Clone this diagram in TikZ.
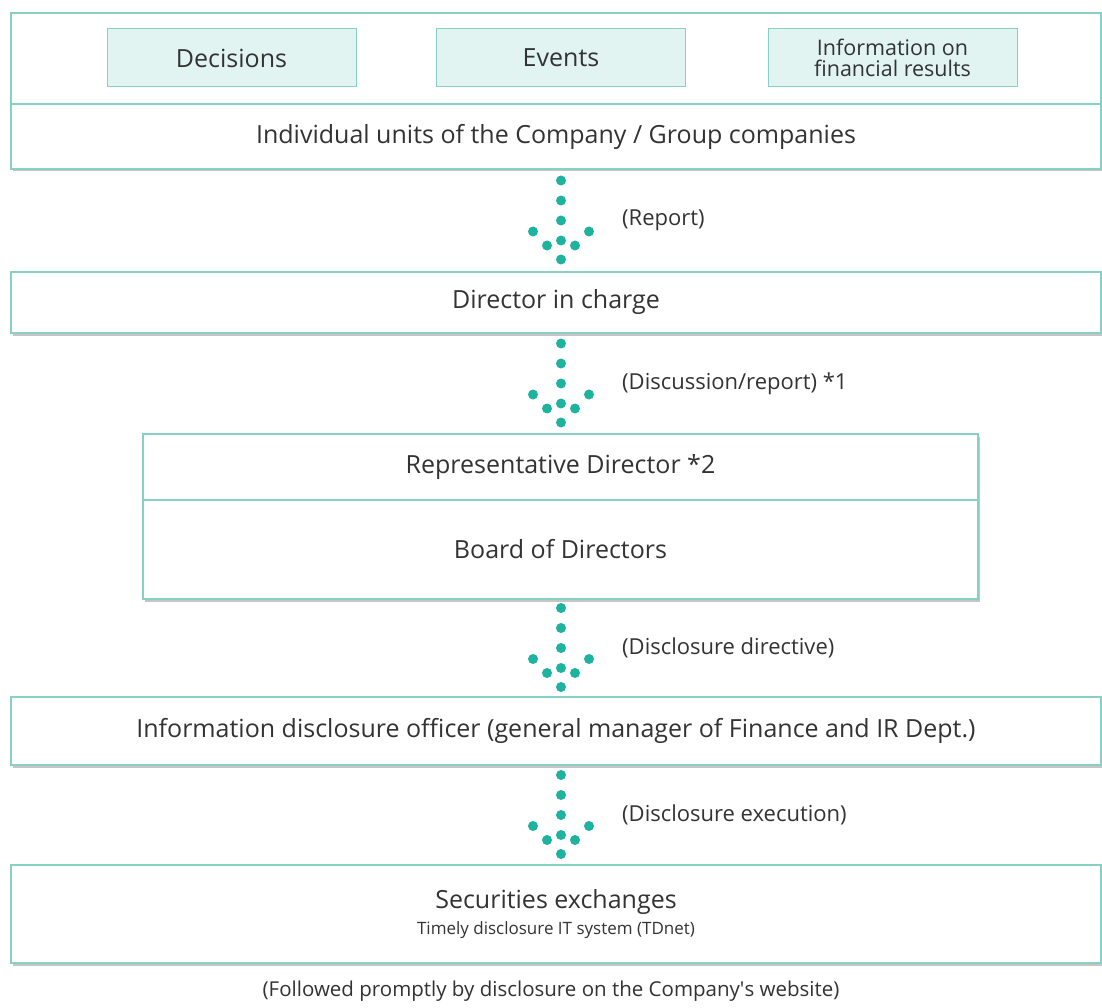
\documentclass[tikz,border=0pt]{standalone}
\usepackage{fontspec}
\setmainfont{Open Sans}
\usetikzlibrary{calc,shadows}
\definecolor{frame}{HTML}{86D0C6}
\definecolor{tint}{HTML}{E1F4F2}
\definecolor{dotc}{HTML}{1DB39E}
\definecolor{ink}{HTML}{333333}
% dotted down arrow between two boxes, with its note
\newcommand{\dotarrow}[3]{%
  \path ($(#1.south)!0.5!(#2.north)$) coordinate (m);
  \coordinate (c) at (axis |- m);
  \foreach \dx/\dy in {0/-40,0/-20,0/0,0/20,0/39,-28/11,28/11,-14/25,14/25}
    \fill[dotc] ([shift={(\dx,\dy)}]c) circle (5pt);
  \node[note,anchor=west] at ([xshift=61]c) {#3};
}
\begin{document}
\begin{tikzpicture}[x=1pt,y=-1pt,font=\fontsize{25}{30}\selectfont,text=ink,
    box/.style={draw=frame,line width=1.5pt,fill=white,
      drop shadow={shadow xshift=2pt,shadow yshift=-2.5pt,fill=black!45,opacity=0.5}},
    kind/.style={draw=frame,line width=1pt,fill=tint},
    note/.style={inner sep=0pt,font=\fontsize{22}{26}\selectfont}]
  \useasboundingbox[fill=white] (0,0) rectangle (1102,1008);
  \coordinate (axis) at (561,0);
  \node[box,minimum width=1090pt,minimum height=91pt] (kinds) at (556,58.5) {};
  \node[box,minimum width=1090pt,minimum height=65pt] (units) at (556,136.5) {Individual units of the Company / Group companies};
  \node[kind,minimum width=249pt,minimum height=58pt] (decide) at (231.5,58) {Decisions};
  \node[kind,minimum width=249pt,minimum height=58pt] (events) at (561,58) {Events};
  \node[kind,minimum width=249pt,minimum height=58pt,align=center,inner sep=0pt,
    font=\fontsize{21.5}{21}\selectfont] (results) at (892.5,58) {Information on\\financial results};
  \node[box,minimum width=1090pt,minimum height=61pt] (charge) at (556,302.5) {Director in charge};
  \node[box,minimum width=835pt,minimum height=66pt] (rep) at (560.5,467) {Representative Director *2};
  \node[box,minimum width=835pt,minimum height=99pt] (board) at (560.5,549.5) {Board of Directors};
  \node[box,minimum width=1090pt,minimum height=68pt] (officer) at (556,731) {Information disclosure officer (general manager of Finance and IR Dept.)};
  \node[box,minimum width=1090pt,minimum height=98pt,align=center] (exch) at (556,914)
    {Securities exchanges\\[-4pt]{\fontsize{17}{19}\selectfont Timely disclosure IT system (TDnet)}};
  \node[font=\fontsize{20.5}{24}\selectfont] (web) at (551,991) {(Followed promptly by disclosure on the Company\textquotesingle s website)};
  \dotarrow{units}{charge}{(Report)}
  \dotarrow{charge}{rep}{(Discussion/report) *1}
  \dotarrow{board}{officer}{(Disclosure directive)}
  \dotarrow{officer}{exch}{(Disclosure execution)}
\end{tikzpicture}
\end{document}
